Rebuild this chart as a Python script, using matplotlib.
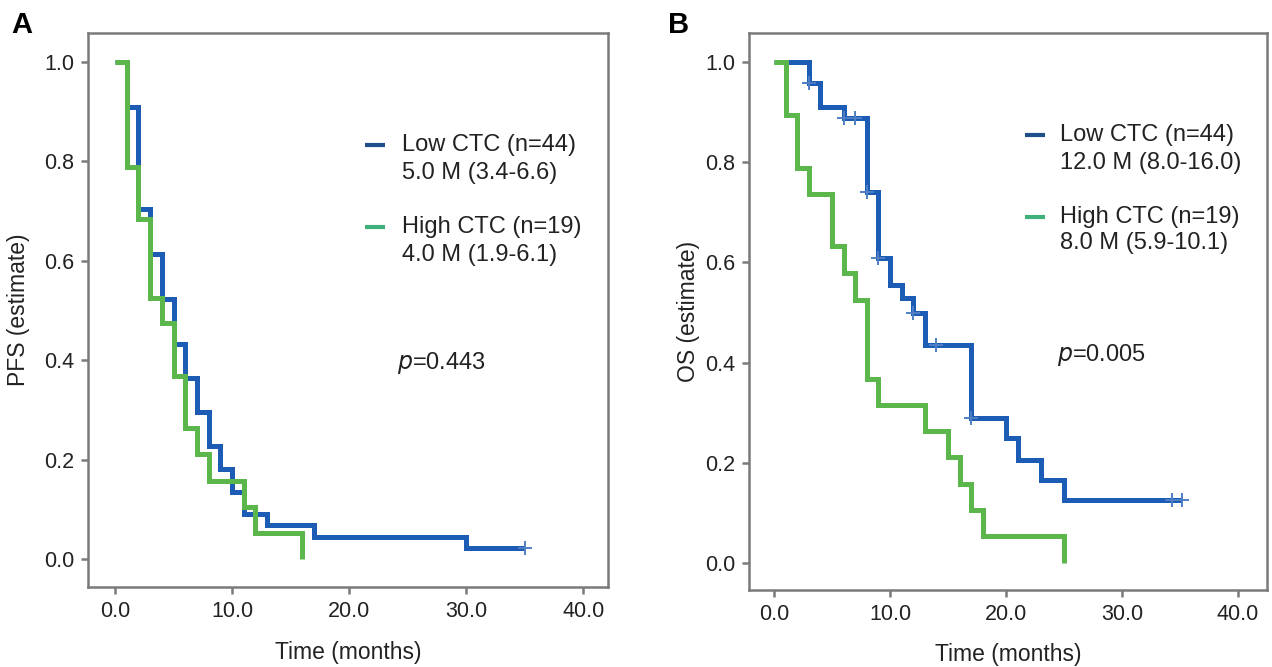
import matplotlib
matplotlib.use("Agg")
import matplotlib.pyplot as plt
from matplotlib.ticker import FormatStrFormatter

plt.rcParams["font.family"] = ["Liberation Sans", "DejaVu Sans"]

# PFS (panel A), Kaplan-Meier steps
pfs_low_t = [0, 1, 2, 3, 4, 5, 6, 7, 8, 9, 10, 11, 13, 17, 30, 35]
pfs_low_s = [1.0, 0.909, 0.705, 0.614, 0.523, 0.432, 0.364, 0.295, 0.227, 0.182,
             0.136, 0.091, 0.068, 0.045, 0.023, 0.023]
pfs_low_cens_t = [35]
pfs_low_cens_s = [0.023]

pfs_high_t = [0, 1, 2, 3, 4, 5, 6, 7, 8, 11, 12, 16]
pfs_high_s = [1.0, 0.789, 0.684, 0.526, 0.474, 0.368, 0.263, 0.211, 0.158, 0.105, 0.053, 0.0]

# OS (panel B)
os_low_t = [0, 3, 4, 6, 8, 9, 10, 11, 12, 13, 17, 20, 21, 23, 25, 35.2]
os_low_s = [1.0, 0.958, 0.910, 0.888, 0.741, 0.609, 0.555, 0.529, 0.499, 0.435,
            0.289, 0.249, 0.206, 0.166, 0.126, 0.126]
os_low_cens_t = [3, 6, 7, 8, 9, 12, 14, 17, 34.3, 35.2]
os_low_cens_s = [0.958, 0.888, 0.888, 0.741, 0.609, 0.499, 0.435, 0.289, 0.126, 0.126]

os_high_t = [0, 1, 2, 3, 5, 6, 7, 8, 9, 13, 15, 16, 17, 18, 25]
os_high_s = [1.0, 0.895, 0.789, 0.737, 0.632, 0.579, 0.526, 0.368, 0.316, 0.263,
             0.211, 0.158, 0.105, 0.053, 0.0]

group_labels = ["Low CTC (n=44)", "High CTC (n=19)"]
pfs_median = ["5.0 M (3.4-6.6)", "4.0 M (1.9-6.1)"]
os_median = ["12.0 M (8.0-16.0)", "8.0 M (5.9-10.1)"]
pvals = ["0.443", "0.005"]

BLUE = "#1c5cb5"
GREEN = "#5bb74c"
LEG_COLORS = ["#1f4f8a", "#3fb07a"]
GRAY = "#7a7a7a"

fig = plt.figure(figsize=(12.72, 6.67), dpi=100)
ax_a = fig.add_axes([0.0692, 0.1199, 0.4088, 0.8306])
ax_b = fig.add_axes([0.5888, 0.1154, 0.4072, 0.8350])

panels = [
    (ax_a, pfs_low_t, pfs_low_s, pfs_low_cens_t, pfs_low_cens_s, pfs_high_t, pfs_high_s,
     pfs_median, pvals[0], "PFS (estimate)", (-2.3, 42.1), (-0.056, 1.058),
     [0.798, 0.747, 0.650, 0.599], 0.604, (0.594, 0.404), -0.112, -0.097),
    (ax_b, os_low_t, os_low_s, os_low_cens_t, os_low_cens_s, os_high_t, os_high_s,
     os_median, pvals[1], "OS (estimate)", (-2.16, 42.5), (-0.054, 1.058),
     [0.817, 0.767, 0.670, 0.623], 0.600, (0.595, 0.422), -0.095, -0.095),
]

for (ax, lt, ls, ct, cs, ht, hs, med, p, ylab, xlim, ylim,
     leg_y, text_x, p_xy, ylab_x, xlab_y) in panels:
    ax.step(lt, ls, where="post", color=BLUE, lw=3.6,
            solid_joinstyle="miter", solid_capstyle="butt", zorder=2)
    ax.step(ht, hs, where="post", color=GREEN, lw=3.6,
            solid_joinstyle="miter", solid_capstyle="butt", zorder=3)
    ax.plot(ct, cs, linestyle="none", marker="+", markersize=10,
            markeredgewidth=1.4, color="#4f7fc4", zorder=4)

    ax.set_xlim(*xlim)
    ax.set_ylim(*ylim)
    ax.set_xticks([0, 10, 20, 30, 40])
    ax.set_yticks([0.0, 0.2, 0.4, 0.6, 0.8, 1.0])
    ax.xaxis.set_major_formatter(FormatStrFormatter("%.1f"))
    ax.yaxis.set_major_formatter(FormatStrFormatter("%.1f"))
    ax.tick_params(direction="out", length=5, width=1.8, color=GRAY,
                   labelsize=15.5, labelcolor="#222222", pad=5)
    for sp in ax.spines.values():
        sp.set_color(GRAY)
        sp.set_linewidth(1.8)

    ax.set_xlabel("Time (months)", fontsize=16.5, color="#222222")
    ax.set_ylabel(ylab, fontsize=16.5, color="#222222")
    ax.xaxis.set_label_coords(0.5, xlab_y)
    ax.yaxis.set_label_coords(ylab_x, 0.5)

    # legend entries: short dash + two text lines
    for i in range(2):
        y1, y2 = leg_y[2 * i], leg_y[2 * i + 1]
        ax.plot([0.533, 0.571], [y1, y1], color=LEG_COLORS[i], lw=3,
                transform=ax.transAxes, solid_capstyle="butt")
        ax.text(text_x, y1, group_labels[i], transform=ax.transAxes,
                fontsize=17, va="center", ha="left", color="#222222")
        ax.text(text_x, y2, med[i], transform=ax.transAxes,
                fontsize=17, va="center", ha="left", color="#222222")

    ax.text(p_xy[0], p_xy[1], "$\\mathit{p}$=" + p, transform=ax.transAxes,
            fontsize=17, va="center", ha="left", color="#222222")

fig.text(0.009, 0.963, "A", fontsize=21, fontweight="bold", va="center")
fig.text(0.525, 0.963, "B", fontsize=21, fontweight="bold", va="center")

fig.savefig("out.png", dpi=100)
